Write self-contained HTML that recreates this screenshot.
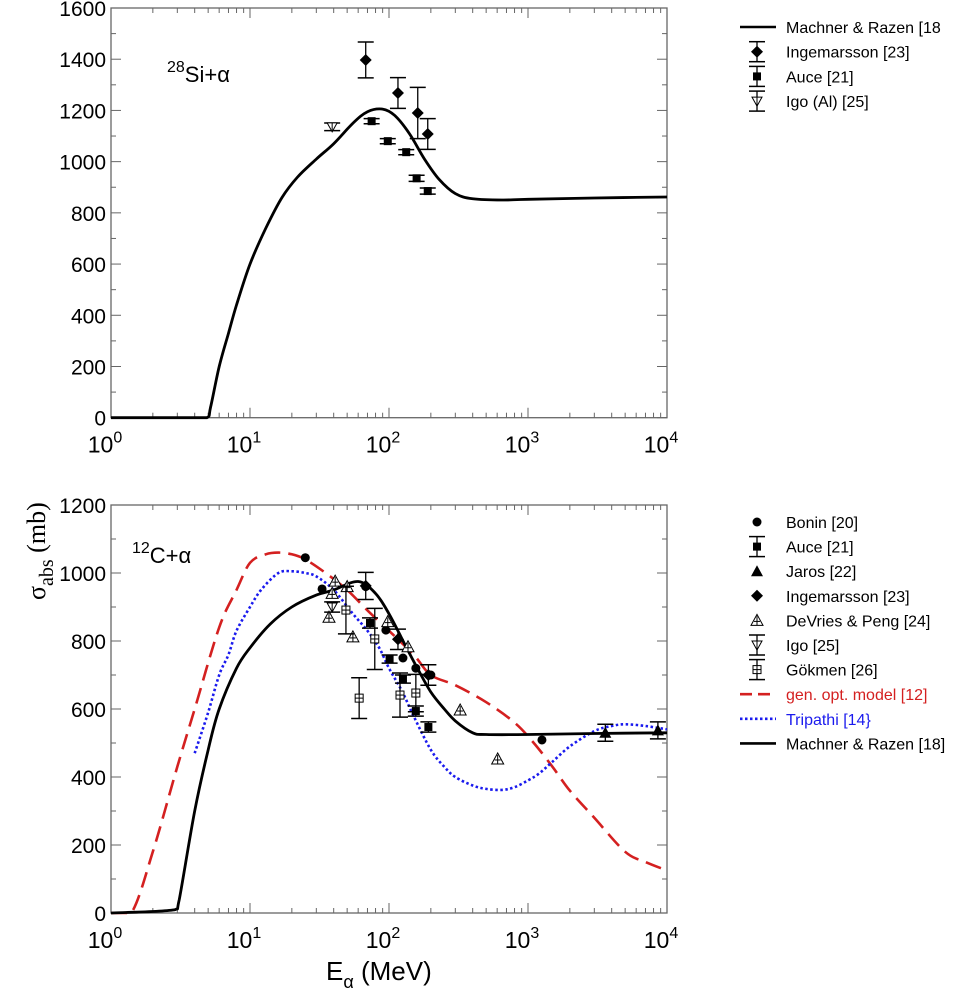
<!DOCTYPE html>
<html><head><meta charset="utf-8"><style>
body{margin:0;background:#fff;}
svg{display:block;font-family:"Liberation Sans",sans-serif;}
</style></head><body>
<svg id="c" width="970" height="996" viewBox="0 0 970 996" xmlns="http://www.w3.org/2000/svg"></svg>
<script>
// ---- data (log-x energies in MeV, cross sections in mb) ----
const siMachE=[1,4.9,5.2,6,7,8,10,13,17,22,30,40,55,70,90,110,140,180,230,300,400,650,1000,3000,10000];
const siMachS=[0,0,40,200,330,440,600,740,860,940,1010,1070,1150,1195,1205,1180,1110,1010,930,875,855,850,853,858,862];
const siIngE=[68,116,161,190], siIngS=[1397,1268,1190,1108], siIngErr=[70,60,100,60];
const siAuceE=[75,98,133,158,190], siAuceS=[1158,1080,1037,935,885];
const siIgoE=[39], siIgoS=[1136];

const cMachE=[1,2.9,3.1,4,5,6,8,10,14,20,30,40,60,80,100,130,160,200,250,300,400,500,1000,3000,10000];
const cMachS=[0,10,40,300,480,600,720,780,850,900,935,950,975,940,880,790,720,650,600,565,530,525,525,528,530];
const cGenE=[1,1.4,2,3,4,6,8,10,13,16,20,25,35,50,70,100,150,200,300,500,800,1100,1500,2000,3000,5000,7000,10000];
const cGenS=[0,0,180,430,600,840,950,1030,1055,1060,1055,1040,1000,950,890,830,760,700,670,620,560,500,430,360,280,180,150,125];
const cTriE=[4,5,6,7,8,10,12,16,20,25,30,40,55,70,85,100,125,150,200,250,300,400,500,650,800,1000,1200,1500,2000,3000,4000,5000,7000,10000];
const cTriS=[470,590,700,760,830,900,950,1000,1005,1000,990,950,880,830,780,720,650,580,480,430,400,375,365,362,370,390,410,445,490,535,550,555,550,540];
const boninE=[25,33,68,95,126,156,200,1260], boninS=[1045,953,960,832,750,720,700,509];
const auceE=[73,101,126,156,192], auceS=[853,747,688,594,547], auceErr=[15,12,12,15,15];
const jarosE=[41,3600,8600], jarosS=[975,530,537], jarosErr=[0,25,25];
const ingE=[68,116,192], ingS=[962,805,700], ingErr=[40,30,30];
const devE=[41,50,39,37,55,98,137,325,605], devS=[976,960,940,870,812,857,783,597,453];
const igoE=[39], igoS=[900], igoErr=[15];
const gokE=[49,61,79,120,156], gokS=[891,632,806,641,647], gokErr=[70,60,90,65,55];

const svg=document.getElementById('c');const NS='http://www.w3.org/2000/svg';
function el(t,a,p){const e=document.createElementNS(NS,t);for(const k in a)e.setAttribute(k,a[k]);(p||svg).appendChild(e);return e;}
const X0=111,DEC=139;
const xs=E=>X0+Math.log10(E)*DEC;
function mkY(y0,yTop,max){return s=>y0-(y0-yTop)*s/max;}
const yTopP=mkY(417.7,8,1600), yBot=mkY(913,505,1200);

function axes(ys,max,name){
  const g=el('g',{});
  
  
  const yb=ys(0),yt=ys(max),xl=X0,xr=X0+4*DEC;
  el('rect',{x:xl,y:yt,width:xr-xl,height:yb-yt,fill:'none',stroke:'#666','stroke-width':1.3},g);
  for(let d=0;d<4;d++)for(let m=1;m<10;m++){
    const x=X0+(d+Math.log10(m))*DEC, L=m==1?10:5;
    el('line',{x1:x,y1:yb,x2:x,y2:yb-L,stroke:'#666'},g);
    el('line',{x1:x,y1:yt,x2:x,y2:yt+L,stroke:'#666'},g);
  }
  for(let d=0;d<=4;d++){
    const t=el('text',{x:X0+d*DEC-6,y:yb+35,'font-size':23,'text-anchor':'middle'},g);
    t.textContent='10';const s=el('tspan',{dy:-10,'font-size':16},t);s.textContent=d;
  }
  for(let v=0;v<=max;v+=100){
    const y=ys(v),L=v%200==0?10:5;
    el('line',{x1:xl,y1:y,x2:xl+L,y2:y,stroke:'#666'},g);
    el('line',{x1:xr,y1:y,x2:xr-L,y2:y,stroke:'#666'},g);
    if(v%200==0){const t=el('text',{x:xl-5,y:y+8,'font-size':21,'text-anchor':'end'},g);t.textContent=v;}
  }
}
axes(yTopP,1600,'top');axes(yBot,1200,'bottom');

function line(E,S,ys,attrs,name){
  const P=E.map((e,i)=>[xs(e),ys(S[i])]);
  const yb=ys(0);
  let d='M'+P[0][0].toFixed(1)+','+P[0][1].toFixed(1);
  for(let i=0;i<P.length-1;i++){
    const p0=P[i-1]||P[i],p1=P[i],p2=P[i+1],p3=P[i+2]||P[i+1];
    const k=1/6;
    const c1=[p1[0]+(p2[0]-p0[0])*k,p1[1]+(p2[1]-p0[1])*k];
    const c2=[p2[0]-(p3[0]-p1[0])*k,p2[1]-(p3[1]-p1[1])*k];
    c1[0]=Math.min(Math.max(c1[0],p1[0]),p2[0]);c2[0]=Math.min(Math.max(c2[0],p1[0]),p2[0]);
    c1[1]=Math.min(c1[1],yb);c2[1]=Math.min(c2[1],yb);
    d+='C'+c1.map(v=>v.toFixed(1)).join(',')+' '+c2.map(v=>v.toFixed(1)).join(',')+' '+p2[0].toFixed(1)+','+p2[1].toFixed(1);
  }
  const p=el('path',Object.assign({d:d,fill:'none','stroke-linejoin':'round'},attrs));
  
  
}
function errbar(x,y1,y2,g){el('line',{x1:x,y1:y1,x2:x,y2:y2,stroke:'#000','stroke-width':1.3},g);
  el('line',{x1:x-8,y1:y1,x2:x+8,y2:y1,stroke:'#000','stroke-width':1.5},g);el('line',{x1:x-8,y1:y2,x2:x+8,y2:y2,stroke:'#000','stroke-width':1.5},g);}
function marker(type,x,y,g){
  if(type=='circle')el('circle',{cx:x,cy:y,r:4.5,fill:'#000'},g);
  else if(type=='square')el('rect',{x:x-4,y:y-4,width:8,height:8,fill:'#000'},g);
  else if(type=='tri')el('polygon',{points:`${x},${y-6} ${x-6},${y+5} ${x+6},${y+5}`,fill:'#000'},g);
  else if(type=='diamond')el('polygon',{points:`${x},${y-6} ${x+6},${y} ${x},${y+6} ${x-6},${y}`,fill:'#000'},g);
  else if(type=='otri'){el('polygon',{points:`${x},${y-6} ${x-6},${y+5} ${x+6},${y+5}`,fill:'#fff',stroke:'#000'},g);el('line',{x1:x-3,y1:y+1,x2:x+3,y2:y+1,stroke:'#000'},g);el('line',{x1:x,y1:y-4,x2:x,y2:y+5,stroke:'#000'},g);}
  else if(type=='dtri'){el('polygon',{points:`${x},${y+5} ${x-5},${y-4} ${x+5},${y-4}`,fill:'#fff',stroke:'#000'},g);el('line',{x1:x,y1:y-4,x2:x,y2:y+5,stroke:'#000'},g);}
  else if(type=='box'){el('rect',{x:x-4,y:y-4,width:8,height:8,fill:'#fff',stroke:'#000'},g);el('line',{x1:x-4,y1:y,x2:x+4,y2:y,stroke:'#000'},g);el('line',{x1:x,y1:y-4,x2:x,y2:y+4,stroke:'#000'},g);}
}
function points(E,S,Err,ys,type,name){
  const g=el('g',{});
  
  
  E.forEach((e,i)=>{const x=xs(e),y=ys(S[i]);const er=Err?Err[i]:0;
    if(er)errbar(x,ys(S[i]+er),ys(S[i]-er),g);
    marker(type,x,y,g);});
}
// top panel
line(siMachE,siMachS,yTopP,{stroke:'#000','stroke-width':2.8},'si-machner-curve');
points(siIngE,siIngS,siIngErr,yTopP,'diamond','si-ingemarsson-points');
points(siAuceE,siAuceS,[10,10,10,12,12],yTopP,'square','si-auce-points');
points(siIgoE,siIgoS,[15],yTopP,'dtri','si-igo-points');
// bottom panel
line(cGenE,cGenS,yBot,{stroke:'#d42020','stroke-width':2.6,'stroke-dasharray':'16,8'},'c-gen-opt-curve');
line(cTriE,cTriS,yBot,{stroke:'#1a1aee','stroke-width':2.6,'stroke-dasharray':'2.5,2.5'},'c-tripathi-curve');
line(cMachE,cMachS,yBot,{stroke:'#000','stroke-width':2.8},'c-machner-curve');
points(boninE,boninS,null,yBot,'circle','c-bonin-points');
points(auceE,auceS,auceErr,yBot,'square','c-auce-points');
points(jarosE,jarosS,jarosErr,yBot,'tri','c-jaros-points');
points(ingE,ingS,ingErr,yBot,'diamond','c-ingemarsson-points');
points(devE,devS,null,yBot,'otri','c-devries-points');
points(igoE,igoS,igoErr,yBot,'dtri','c-igo-points');
points(gokE,gokS,gokErr,yBot,'box','c-gokmen-points');

// legends
function legend(items,y0,dy,name){
  const g=el('g',{});
  
  
  items.forEach((it,i)=>{const y=y0+i*dy,x=757;
    if(it.line)el('line',Object.assign({x1:740,y1:y,x2:776,y2:y,'stroke-width':2.6},it.line),g);
    else{if(it.err)errbar(x,y-10,y+10,g);marker(it.m,x,y,g);}
    const t=el('text',{x:786,y:y+6,'font-size':16,fill:it.c||'#000'},g);t.textContent=it.t;});
}
legend([{line:{stroke:'#000'},t:'Machner & Razen [18'},{m:'diamond',err:1,t:'Ingemarsson [23]'},{m:'square',err:1,t:'Auce [21]'},{m:'dtri',err:1,t:'Igo (Al) [25]'}],27,24.7,'top-legend');
legend([{m:'circle',t:'Bonin [20]'},{m:'square',err:1,t:'Auce [21]'},{m:'tri',t:'Jaros [22]'},{m:'diamond',t:'Ingemarsson [23]'},{m:'otri',t:'DeVries & Peng [24]'},{m:'dtri',err:1,t:'Igo [25]'},{m:'box',err:1,t:'Gökmen [26]'},
 {line:{stroke:'#d42020','stroke-dasharray':'12,6'},t:'gen. opt. model [12]',c:'#d42020'},{line:{stroke:'#1a1aee','stroke-dasharray':'2.5,2.5'},t:'Tripathi [14}',c:'#1a1aee'},{line:{stroke:'#000'},t:'Machner & Razen [18]'}],522,24.6,'bottom-legend');

// panel labels & titles
let t=el('text',{x:167,y:82,'font-size':22});
let s=el('tspan',{dy:-10,'font-size':16},t);s.textContent='28';s=el('tspan',{dy:10},t);s.textContent='Si+α';
t=el('text',{x:132,y:563,'font-size':22});
s=el('tspan',{dy:-10,'font-size':16},t);s.textContent='12';s=el('tspan',{dy:10},t);s.textContent='C+α';
t=el('text',{x:0,y:0,'font-size':26,'font-family':'Liberation Serif, serif',transform:'translate(45,600) rotate(-90)'});

s=el('tspan',{},t);s.textContent='σ';s=el('tspan',{dy:8,'font-size':20},t);s.textContent='abs';s=el('tspan',{dy:-8},t);s.textContent=' (mb)';
t=el('text',{x:326,y:980,'font-size':26});
s=el('tspan',{},t);s.textContent='E';s=el('tspan',{dy:8,'font-size':18},t);s.textContent='α';s=el('tspan',{dy:-8},t);s.textContent=' (MeV)';
</script>
</body></html>
